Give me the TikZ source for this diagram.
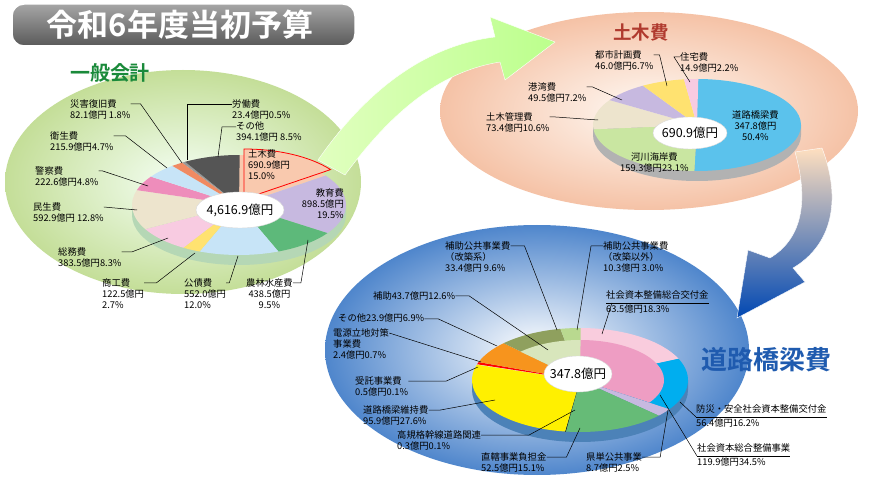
\documentclass[tikz,border=0pt]{standalone}
\usepackage{fontspec}
\setmainfont{Noto Sans CJK JP}[BoldFont={Noto Sans CJK JP Bold}]
\usetikzlibrary{positioning,calc}
\definecolor{gDobo}{HTML}{F9C9AE}\definecolor{gKyo}{HTML}{C7B9E0}
\definecolor{gNou}{HTML}{5DB97A}\definecolor{gKou}{HTML}{C7E4F7}
\definecolor{gShou}{HTML}{FFE270}\definecolor{gSou}{HTML}{F8CBE1}
\definecolor{gMin}{HTML}{EDE4CD}\definecolor{gKei}{HTML}{EE8DBB}
\definecolor{gSai}{HTML}{F08A62}\definecolor{gRou}{HTML}{999999}
\definecolor{gSon}{HTML}{555555}
\definecolor{dRoad}{HTML}{5BC2EC}\definecolor{dRiver}{HTML}{C9E6A1}
\definecolor{rKou}{HTML}{F9CCDD}\definecolor{rBou}{HTML}{00AEEF}
\definecolor{rChoku}{HTML}{66BB77}\definecolor{rIji}{HTML}{FFF000}
\definecolor{rSon}{HTML}{F7941D}\definecolor{rKai}{HTML}{8FA05E}
\definecolor{rKai2}{HTML}{B9D98F}\definecolor{rSou}{HTML}{EE9DC3}
\definecolor{rHojo}{HTML}{D8E6BC}
\definecolor{bgGreen}{HTML}{C4DE98}\definecolor{bgPink}{HTML}{F5C2A6}
\definecolor{bgBlue}{HTML}{4F86CC}
\definecolor{ttlGreen}{HTML}{1A8A3A}\definecolor{ttlRed}{HTML}{B03A2E}
\definecolor{ttlBlue}{HTML}{1F5BAF}
\newcommand\drawpie[5]{%
  \foreach \v/\c [remember=\e as \s (initially -90), evaluate=\v as \e using \s+3.6*\v] in {#5}
    \fill[\c] (#1,#2) -- ++(\s:#3 and #4) arc[start angle=\s,end angle=\e,x radius=#3,y radius=#4] -- cycle;}
\newcommand\pieside[5]{%
  \fill[#5] (#1-#3,#2) -- ++(0,10) arc[start angle=180,end angle=0,x radius=#3,y radius=#4] -- ++(0,-10) -- cycle;}
\tikzset{
  lbl/.style={font=\fontsize{9.3}{11}\selectfont, align=left, inner sep=0pt, anchor=north west},
  lead/.style={draw, line width=0.5pt},
  hole/.style={fill=white, draw=black!15},
  holetxt/.style={font=\fontsize{12.5}{13}\selectfont, inner sep=0pt}
}
\begin{document}
\begin{tikzpicture}[x=1pt,y=-1pt]
\useasboundingbox (0,0) rectangle (879,481);
\fill[white] (0,0) rectangle (879,481);

% background ellipses
\shade[inner color=green!4!white, outer color=bgGreen] (183,182) ellipse[x radius=178,y radius=112];
\shade[inner color=orange!4!white, outer color=bgPink] (649,111) ellipse[x radius=209,y radius=99];
\shade[inner color=white, outer color=bgBlue] (537,350) ellipse[x radius=212,y radius=125];

% arrows
\shade[left color=green!30!lime!25!white, right color=green!45!lime!45!white, draw=white]
  (345,175) .. controls (400,100) and (450,70) .. (500,62) -- (505,80) -- (555,42)
  -- (490,17) -- (495,37) .. controls (430,45) and (370,85) .. (318,160) -- cycle;
\shade[top color=orange!25!white, bottom color=blue!60!cyan!70!black, draw=white]
  (822,148) .. controls (842,200) and (832,245) .. (793,268) -- (805,282) -- (737,318)
  -- (748,250) -- (770,258) .. controls (800,240) and (810,205) .. (795,152) -- cycle;

% title
\shade[top color=black!35, bottom color=black!65, draw=white, line width=1.5pt, rounded corners=12pt]
  (12,4) rectangle (355,46);
\node[text=white, font=\fontsize{31}{31}\selectfont\bfseries] (title) at (180,25) {令和6年度当初予算};
\node[text=ttlGreen, font=\fontsize{20}{20}\selectfont\bfseries] (tGen) at (110,73) {一般会計};
\node[text=ttlRed, font=\fontsize{18.5}{18.5}\selectfont\bfseries] (tDobo) at (641,33) {土木費};
\node[text=ttlBlue, font=\fontsize{26}{26}\selectfont\bfseries] (tRoad) at (766,360) {道路橋梁費};

% general pie
\pieside{239}{205}{107}{50}{green!30!gray!45}
\drawpie{239}{205}{107}{50}{15.0/gDobo,19.5/gKyo,9.5/gNou,12.0/gKou,2.7/gShou,8.3/gSou,12.8/gMin,4.8/gKei,4.7/gKou,1.8/gSai,0.5/gRou,8.5/gSon}
\draw[red, line width=0.8pt, fill=gDobo] (244,199) -- ++(-90:107 and 50) arc[start angle=-90,end angle=-36,x radius=107,y radius=50] -- cycle;
\fill[hole] (240,210) ellipse[x radius=44,y radius=18];
\node[holetxt] (cGen) at (240,210) {4,616.9億円};

% doboku pie
\pieside{697}{125}{104}{46}{black!30}
\drawpie{697}{125}{104}{46}{50.4/dRoad,23.1/dRiver,10.6/gMin,7.2/gKyo,6.7/gShou,2.2/gSou}
\fill[hole] (690,133) ellipse[x radius=37,y radius=16];
\node[holetxt] (cDobo) at (690,133) {690.9億円};

% road pie
\pieside{580}{380}{108}{52}{blue!50!cyan!60!black!70}
\drawpie{580}{380}{108}{52}{18.3/rKou,16.2/rBou,2.5/gKyo,15.1/rChoku,0.1/black,27.6/rIji,0.1/white,0.7/red,6.9/rSon,9.6/rKai,3.0/rKai2}
\fill[rSou] (580,380) -- ++(-90:84 and 40) arc[start angle=-90,end angle=34.2,x radius=84,y radius=40] -- cycle;
\fill[rHojo] (580,380) -- ++(225:84 and 40) arc[start angle=225,end angle=270.4,x radius=84,y radius=40] -- cycle;
\fill[hole] (578,374) ellipse[x radius=34,y radius=18];
\node[holetxt] (cRoad) at (578,374) {347.8億円};

% general labels
\node[lbl] (lSai) at (70,99) {災害復旧費\\82.1億円 1.8\%};
\node[lbl] (lRou) at (232,99) {労働費\\23.4億円0.5\%};
\node[lbl] (lSon) at (236,122) {その他\\394.1億円 8.5\%};
\node[lbl] (lDobo) at (248,149) {土木費\\690.9億円\\15.0\%};
\node[lbl, align=right, anchor=north east] (lKyo) at (344,188) {教育費\\898.5億円\\19.5\%};
\node[lbl] (lEi) at (50,131) {衛生費\\215.9億円4.7\%};
\node[lbl] (lKei) at (35,166) {警察費\\222.6億円4.8\%};
\node[lbl] (lMin) at (33,202) {民生費\\592.9億円 12.8\%};
\node[lbl] (lSou) at (58,247) {総務費\\383.5億円8.3\%};
\node[lbl] (lShou) at (102,278) {商工費\\122.5億円\\2.7\%};
\node[lbl] (lKou) at (184,278) {公債費\\552.0億円\\12.0\%};
\node[lbl, align=center] (lNou) at (246,278) {農林水産費\\438.5億円\\9.5\%};
\coordinate (pSai) at (182,163); \coordinate (pRou) at (187,160); \coordinate (pSon) at (218,157);
\coordinate (pEi) at (167,168); \coordinate (pKei) at (148,186); \coordinate (pMin) at (137,210);
\coordinate (pSou) at (168,238); \coordinate (pShou) at (195,253); \coordinate (pKou) at (238,256);
\coordinate (pNou) at (308,240);
\draw[lead] ([yshift=-5pt]lSai.north east) -- ++(10,0) -- (pSai);
\draw[lead] ([yshift=-5pt]lRou.north west) -- ++(-45,0) -- (pRou);
\draw[lead] ([yshift=-5pt]lSon.north west) -- ++(-14,0) -- (pSon);
\draw[lead] ([yshift=-5pt]lEi.north east) -- ++(12,0) -- (pEi);
\draw[lead] ([yshift=-5pt]lKei.north east) -- ++(4,0) -- (pKei);
\draw[lead] ([yshift=-5pt]lMin.north east) -- (pMin);
\draw[lead] ([yshift=-5pt]lSou.north east) -- ++(10,0) -- (pSou);
\draw[lead] ([yshift=-5pt]lShou.north east) -- ++(12,0) -- (pShou);
\draw[lead] ([yshift=-5pt]lKou.north east) -- ++(3,0) -- (pKou);
\draw[lead] ([yshift=-5pt]lNou.north east) -- ++(8,0) -- (pNou);

% doboku labels
\node[lbl] (lCity) at (595,50) {都市計画費\\46.0億円6.7\%};
\node[lbl] (lHouse) at (680,52) {住宅費\\14.9億円2.2\%};
\node[lbl] (lPort) at (528,82) {港湾費\\49.5億円7.2\%};
\node[lbl] (lMgmt) at (486,112) {土木管理費\\73.4億円10.6\%};
\node[lbl, align=center] (lRiver) at (620,152) {河川海岸費\\159.3億円23.1\%};
\node[lbl, align=center] (lRoadD) at (732,110) {道路橋梁費\\347.8億円\\50.4\%};
\coordinate (pCity) at (667,86); \coordinate (pHouse) at (690,82);
\coordinate (pPort) at (622,100); \coordinate (pMgmt) at (598,120);
\draw[lead] ([yshift=-5pt]lCity.north east) -- ++(6,0) -- (pCity);
\draw[lead] ([yshift=-5pt]lHouse.north west) -- ++(-6,0) -- (pHouse);
\draw[lead] ([yshift=-5pt]lPort.north east) -- ++(6,0) -- (pPort);
\draw[lead] ([yshift=-5pt]lMgmt.north east) -- ++(6,0) -- (pMgmt);

% road labels
\node[lbl] (lKai) at (445,241) {補助公共事業費\\（改築系）\\33.4億円 9.6\%};
\node[lbl] (lKai2) at (603,241) {補助公共事業費\\（改築以外）\\10.3億円 3.0\%};
\node[lbl] (lKouf) at (606,290) {社会資本整備総合交付金\\[3pt]63.5億円18.3\%};
\node[lbl] (lHojo) at (373,291) {補助43.7億円12.6\%};
\node[lbl] (lSonR) at (338,314) {その他23.9億円6.9\%};
\node[lbl] (lDen) at (333,328) {電源立地対策\\事業費\\2.4億円0.7\%};
\node[lbl] (lJu) at (355,376) {受託事業費\\0.5億円0.1\%};
\node[lbl] (lIji) at (363,405) {道路橋梁維持費\\95.9億円27.6\%};
\node[lbl] (lKoki) at (397,430) {高規格幹線道路関連\\0.3億円0.1\%};
\node[lbl] (lChoku) at (481,452) {直轄事業負担金\\52.5億円15.1\%};
\node[lbl] (lKen) at (586,452) {県単公共事業\\8.7億円2.5\%};
\node[lbl] (lBou) at (696,404) {防災・安全社会資本整備交付金\\[3pt]56.4億円16.2\%};
\node[lbl] (lSouR) at (697,443) {社会資本総合整備事業\\[3pt]119.9億円34.5\%};
\coordinate (pKai) at (557,330); \coordinate (pKai2) at (577,330); \coordinate (pKouf) at (602,334);
\coordinate (pHojo) at (548,350); \coordinate (pSonR) at (497,346); \coordinate (pDen) at (481,362);
\coordinate (pJu) at (478,367); \coordinate (pIji) at (495,400); \coordinate (pKoki) at (575,410);
\coordinate (pChoku) at (580,428); \coordinate (pKen) at (668,410); \coordinate (pBou) at (680,402);
\coordinate (pSouR) at (660,395);
\draw[lead] ([yshift=-5pt]lKai.north east) -- ++(14,0) -- (pKai);
\draw[lead] ([yshift=-5pt]lKai2.north west) -- ++(-12,0) -- (pKai2);
\draw[lead] (lKouf.west |- 0,303) -- (lKouf.east |- 0,303);
\draw[lead] (612,303) -- (pKouf);
\draw[lead] ([yshift=-5pt]lHojo.north east) -- ++(14,0) -- (pHojo);
\draw[lead] ([yshift=-5pt]lSonR.north east) -- ++(14,0) -- (pSonR);
\draw[lead] ([yshift=-5pt]lDen.north east) -- (pDen);
\draw[lead] ([yshift=-5pt]lJu.north east) -- ++(38,0) -- (pJu);
\draw[lead] ([yshift=-5pt]lIji.north east) -- ++(12,0) -- (pIji);
\draw[lead] ([yshift=-5pt]lKoki.north east) -- ++(48,0) -- (pKoki);
\draw[lead] ([yshift=-5pt]lChoku.north east) -- ++(20,0) -- (pChoku);
\draw[lead] ([yshift=-5pt]lKen.north east) -- ++(18,0) -- (pKen);
\draw[lead] (lBou.west |- 0,417) -- (lBou.east |- 0,417);
\draw[lead] (lBou.west |- 0,417) -- (pBou);
\draw[lead] (lSouR.west |- 0,456) -- (lSouR.east |- 0,456);
\draw[lead] (lSouR.west |- 0,456) -- (pSouR);
\end{tikzpicture}
\end{document}
